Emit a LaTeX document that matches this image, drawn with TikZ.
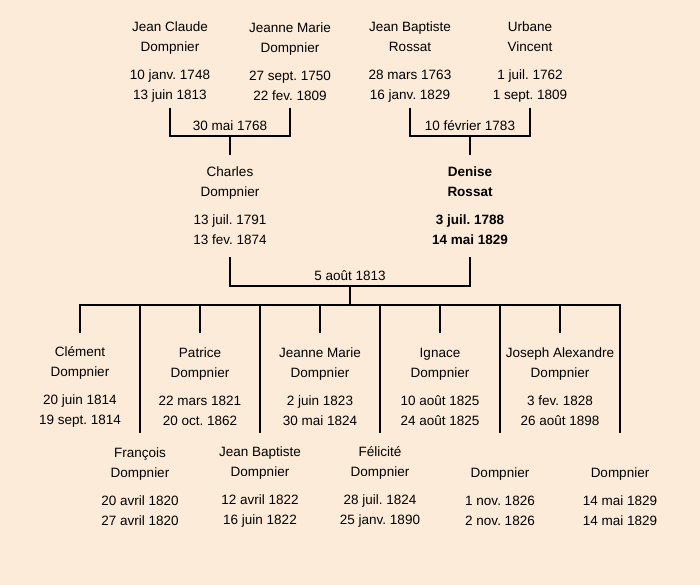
\documentclass[tikz,border=0pt]{standalone}
\usepackage{fontspec}
\setmainfont{Liberation Sans}
\usepackage{xcolor}
\usetikzlibrary{calc}
\usetikzlibrary{positioning}
\definecolor{parchment}{HTML}{FCEBD8}
\frenchspacing
\tikzstyle{person} = [draw=none, align=center, minimum height=92pt, inner sep=0, font=\fontsize{13.5}{20}\selectfont]
\tikzstyle{wed} = [draw=none, above, inner sep=5.5pt, font=\fontsize{13.5}{20}\selectfont]
\tikzstyle{kin} = [-, line width=2pt, draw=black]

\begin{document}
\begin{tikzpicture}[x=1pt, y=-1pt]
\fill [parchment] (0,0) rectangle (700,585);
\useasboundingbox (0,0) rectangle (700,585);
% grandparents
\node [person] (JC) at (170, 62) {Jean Claude\\Dompnier\\[8pt]10 janv. 1748\\13 juin 1813};
\node [person] (JM) at (290, 62) {Jeanne Marie\\Dompnier\\[8pt]27 sept. 1750\\22 fev. 1809};
\node [person] (JB) at (410, 62) {Jean Baptiste\\Rossat\\[8pt]28 mars 1763\\16 janv. 1829};
\node [person] (UV) at (530, 62) {Urbane\\Vincent\\[8pt]1 juil. 1762\\1 sept. 1809};
\coordinate (m1) at (230, 136);
\coordinate (m2) at (470, 136);
\node [wed] (w1) at (m1) {30 mai 1768};
\node [wed] (w2) at (m2) {10 février 1783};
% parents
\node [person, minimum height=102pt] (C) at (230, 206) {Charles\\Dompnier\\[8pt]13 juil. 1791\\13 fev. 1874};
\node [person, minimum height=102pt, font=\fontsize{13.5}{20}\selectfont\bfseries] (D) at (470, 206) {Denise\\Rossat\\[8pt]3 juil. 1788\\14 mai 1829};
\draw [kin] (JC.south) |- (m1) -| (JM.south);
\draw [kin] (JB.south) |- (m2) -| (UV.south);
\draw [kin] (m1) -- (C.north);
\draw [kin] (m2) -- (D.north);
\coordinate (m3) at (350, 286);
\coordinate (b) at (350, 305);
\node [wed] (w3) at (m3) {5 août 1813};
\draw [kin] (C.south) |- (m3) -| (D.south);
\draw [kin] (m3) -- (b);
% children
\node [person, minimum height=108pt] (c1) at (80, 387) {Clément\\Dompnier\\[8pt]20 juin 1814\\19 sept. 1814};
\node [person, minimum height=108pt] (c2) at (140, 487) {François\\Dompnier\\[8pt]20 avril 1820\\27 avril 1820};
\node [person, minimum height=108pt] (c3) at (200, 387) {Patrice\\Dompnier\\[8pt]22 mars 1821\\20 oct. 1862};
\node [person, minimum height=108pt] (c4) at (260, 487) {Jean Baptiste\\Dompnier\\[8pt]12 avril 1822\\16 juin 1822};
\node [person, minimum height=108pt] (c5) at (320, 387) {Jeanne Marie\\Dompnier\\[8pt]2 juin 1823\\30 mai 1824};
\node [person, minimum height=108pt] (c6) at (380, 487) {Félicité\\Dompnier\\[8pt]28 juil. 1824\\25 janv. 1890};
\node [person, minimum height=108pt] (c7) at (440, 387) {Ignace\\Dompnier\\[8pt]10 août 1825\\24 août 1825};
\node [person, minimum height=108pt] (c8) at (500, 487) {\phantom{Dompnier}\\Dompnier\\[8pt]1 nov. 1826\\2 nov. 1826};
\node [person, minimum height=108pt] (c9) at (560, 387) {Joseph Alexandre\\Dompnier\\[8pt]3 fev. 1828\\26 août 1898};
\node [person, minimum height=108pt] (c10) at (620, 487) {\phantom{Dompnier}\\Dompnier\\[8pt]14 mai 1829\\14 mai 1829};
\draw [kin] (c1.north) -- (c1.north |- b) -- (c10.north |- b) -- (c10.north);
\draw [kin] (c2.north) -- (c2.north |- b);
\draw [kin] (c3.north) -- (c3.north |- b);
\draw [kin] (c4.north) -- (c4.north |- b);
\draw [kin] (c5.north) -- (c5.north |- b);
\draw [kin] (c6.north) -- (c6.north |- b);
\draw [kin] (c7.north) -- (c7.north |- b);
\draw [kin] (c8.north) -- (c8.north |- b);
\draw [kin] (c9.north) -- (c9.north |- b);
\end{tikzpicture}
\end{document}
